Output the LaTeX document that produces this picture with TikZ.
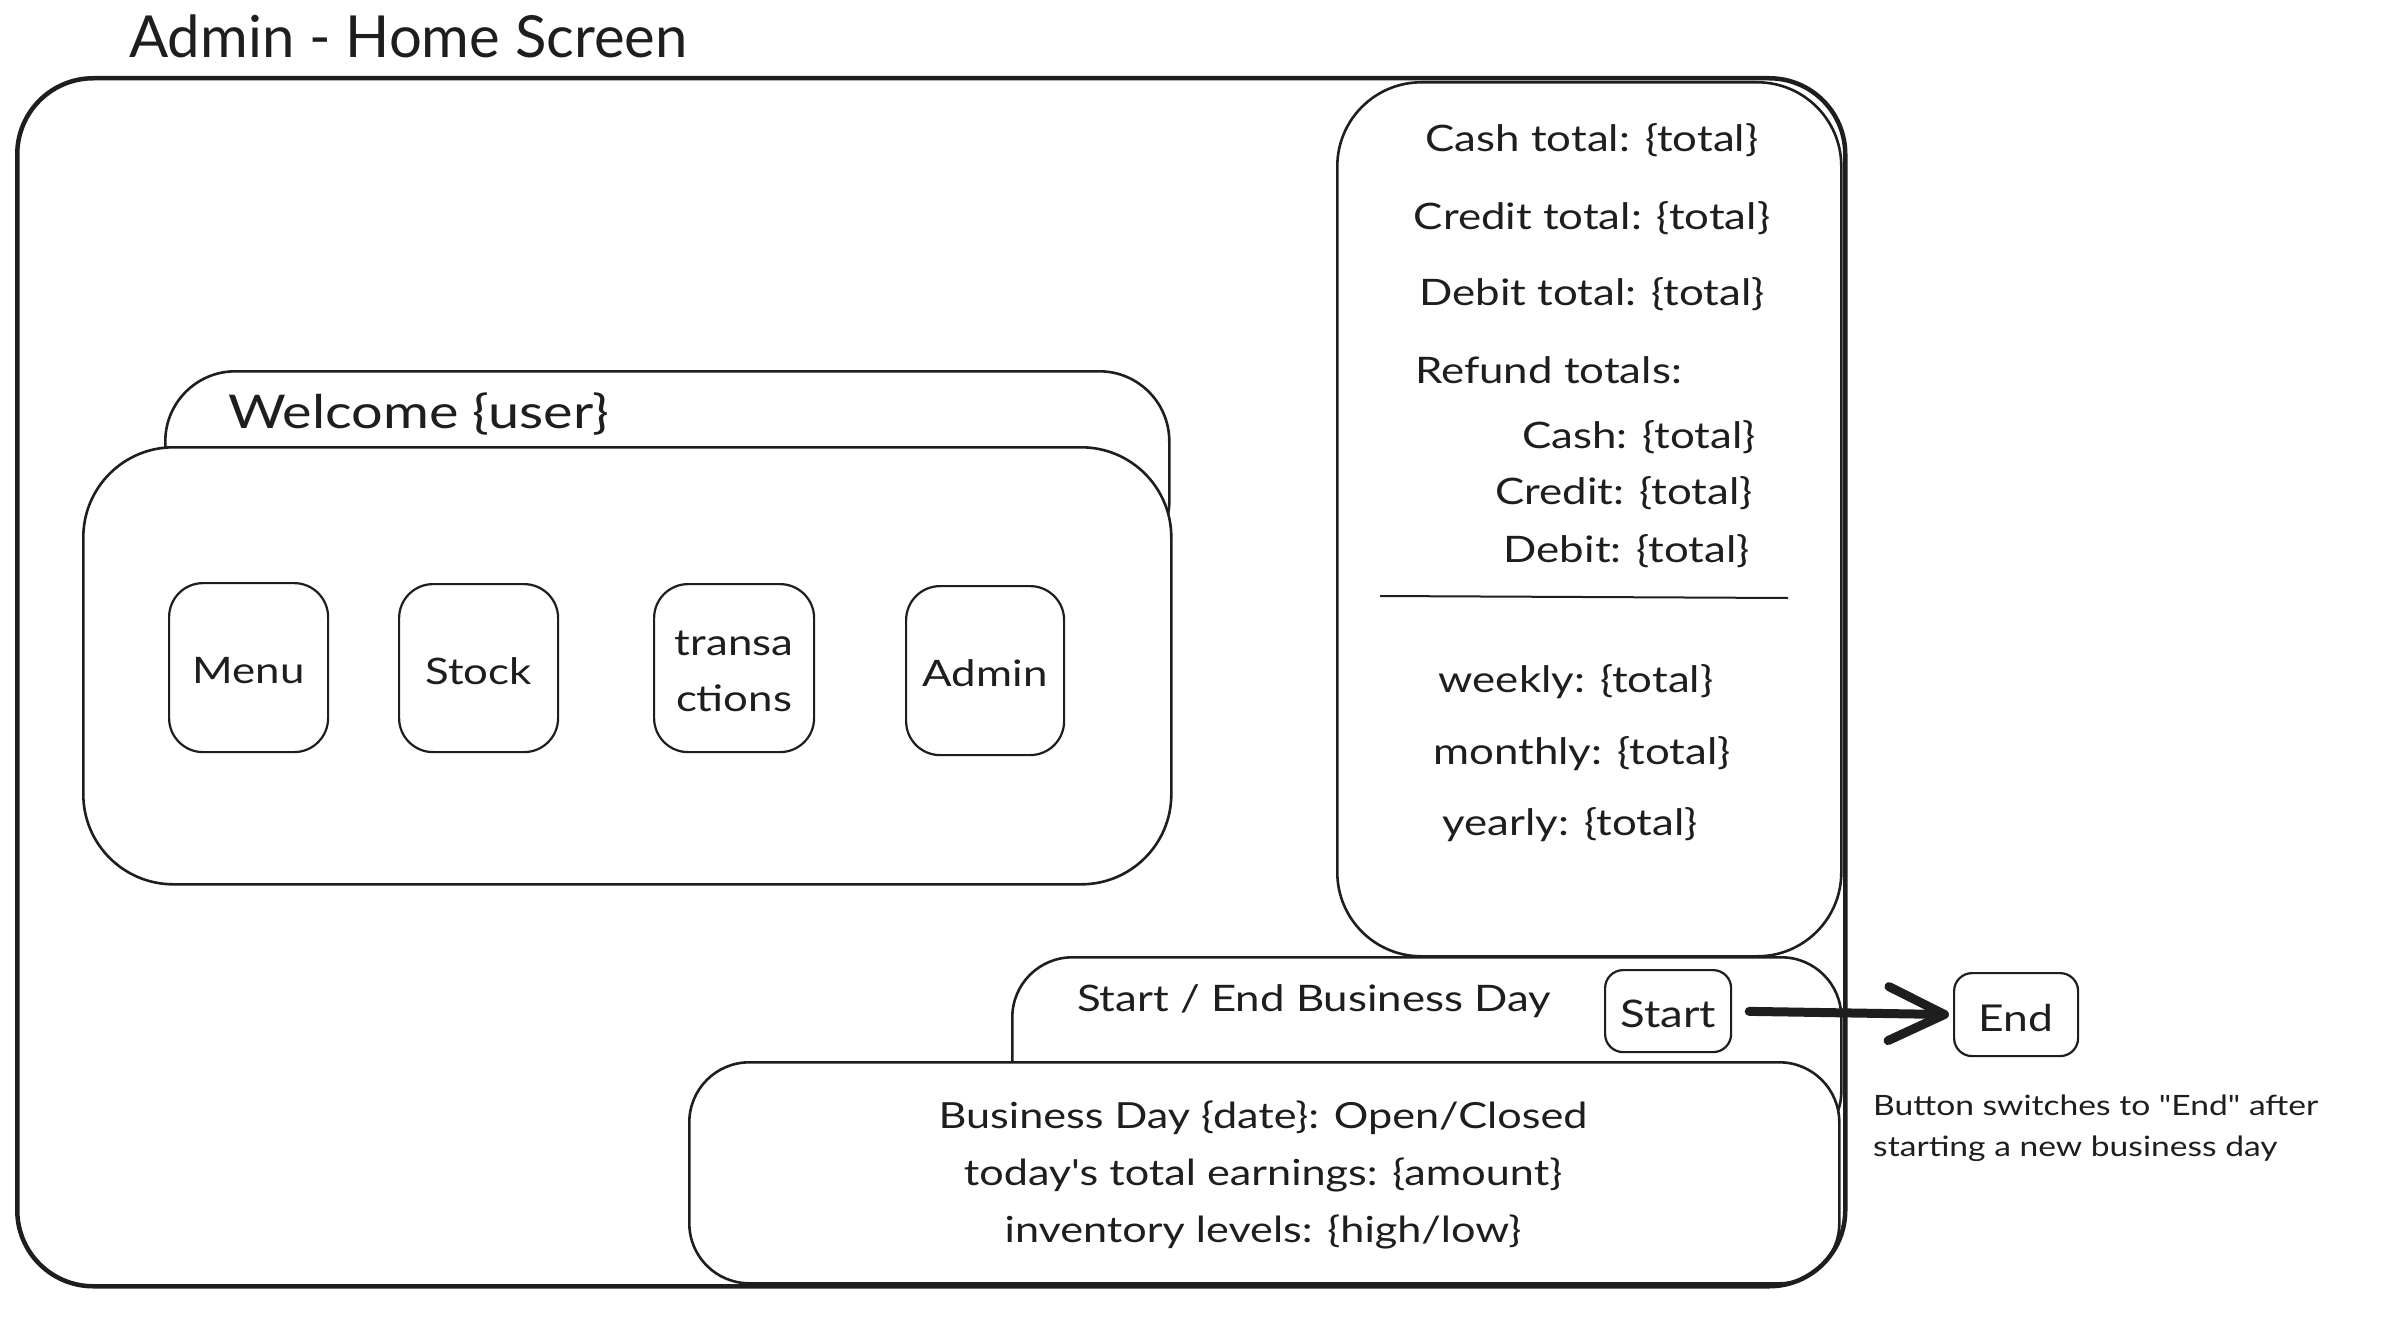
\documentclass[tikz,border=0pt]{standalone}
\usepackage{fontspec}
\setmainfont{Lato}[FakeStretch=1.2, Ligatures=TeXOff]
\newfontfamily\titlefont{Lato}
\usetikzlibrary{arrows.meta}
\definecolor{ink}{HTML}{1E1E1E}
\begin{document}
\begin{tikzpicture}[x=1pt,y=-1pt,
  frame/.style={draw=ink, line width=2.6pt, fill=white, inner sep=0pt, anchor=north west},
  btn/.style={draw=ink, line width=2.2pt, fill=white, inner sep=0pt, anchor=north west},
  txt/.style={inner sep=0pt, text=ink, font=\fontsize{36.5}{42}\selectfont},
  note/.style={inner sep=0pt, text=ink, font=\fontsize{28}{34}\selectfont, anchor=west},
]
\useasboundingbox (0,0) rectangle (2388,1338);
\fill[white] (0,0) rectangle (2388,1338);

% title
\node[txt, anchor=west, font=\titlefont\fontsize{58}{66}\selectfont] (title) at (129,36) {Admin - Home Screen};

% right panel
\node[frame, rounded corners=84pt, minimum width=504pt, minimum height=874pt] (panel) at (1336,81) {};
\node[txt] (cash) at (1592,140) {Cash total: \{total\}};
\node[txt] (credit) at (1592,218) {Credit total: \{total\}};
\node[txt] (debit) at (1592,294) {Debit total: \{total\}};
\node[txt, anchor=west] (refund) at (1415,370) {Refund totals:};
\node[txt, anchor=east] (rcash) at (1756,437) {Cash: \{total\}};
\node[txt, anchor=east] (rcredit) at (1753,493) {Credit: \{total\}};
\node[txt, anchor=east] (rdebit) at (1750,551) {Debit: \{total\}};
\draw[ink, line width=2pt] (1380,596) -- (1788,598);
\node[txt] (weekly) at (1576,682) {weekly: \{total\}};
\node[txt] (monthly) at (1582,754) {monthly: \{total\}};
\node[txt] (yearly) at (1570,825) {yearly: \{total\}};

% welcome area
\node[frame, rounded corners=70pt, minimum width=1004pt, minimum height=200pt] (wtab) at (164,370) {};
\node[txt, anchor=west, font=\fontsize{46.5}{54}\selectfont] (welcome) at (228,414) {Welcome \{user\}};
\node[frame, rounded corners=90pt, minimum width=1088pt, minimum height=437pt] (inner) at (82,446) {};
\node[btn, rounded corners=34pt, minimum width=159pt, minimum height=169pt] (menu) at (168,582) {};
\node[txt] at ([yshift=-3pt]menu.center) {Menu};
\node[btn, rounded corners=34pt, minimum width=159pt, minimum height=168pt] (stock) at (398,583) {};
\node[txt] at ([yshift=-3pt]stock.center) {Stock};
\node[btn, rounded corners=34pt, minimum width=160pt, minimum height=168pt] (trans) at (653,583) {};
\node[txt, align=center, font=\fontsize{36.5}{56}\selectfont] at ([yshift=-3pt]trans.center) {transa\\ctions};
\node[btn, rounded corners=34pt, minimum width=158pt, minimum height=169pt] (admin) at (905,585) {};
\node[txt] at ([yshift=-3pt]admin.center) {Admin};

% business day
\node[frame, rounded corners=60pt, minimum width=829pt, minimum height=194pt] (btab) at (1011,956) {};
\node[txt] (btitle) at (1314,1001) {Start / End Business Day};
\node[btn, rounded corners=18pt, minimum width=126pt, minimum height=82pt] (start) at (1604,969) {};
\node[txt, font=\fontsize{38}{44}\selectfont] at ([yshift=-3pt]start.center) {Start};
\node[frame, rounded corners=60pt, minimum width=1150pt, minimum height=221pt] (bottom) at (688,1061) {};
\node[txt, align=center, font=\fontsize{36}{57}\selectfont] (binfo) at (1263,1175) {Business Day \{date\}: Open/Closed\\today's total earnings: \{amount\}\\inventory levels: \{high/low\}};

% outer frame
\node[draw=ink, line width=4.5pt, rounded corners=76pt, minimum width=1828pt, minimum height=1208pt, inner sep=0pt, anchor=north west] (outer) at (15,76) {};

% end button + arrow
\node[btn, rounded corners=18pt, minimum width=124pt, minimum height=83pt] (endb) at (1953,972) {};
\node[txt, font=\fontsize{37}{44}\selectfont] at ([yshift=-3pt]endb.center) {End};
\draw[ink, line width=9pt, line cap=round, shorten <=17pt, shorten >=4pt,
  -{Straight Barb[length=56pt,width=54pt,line cap=round,line join=round]}] (start.east) -- (endb.west);

\node[note] (note1) at (1873,1105) {Button switches to "End" after};
\node[note] (note2) at (1873,1149) {starting a new business day};
\end{tikzpicture}
\end{document}
